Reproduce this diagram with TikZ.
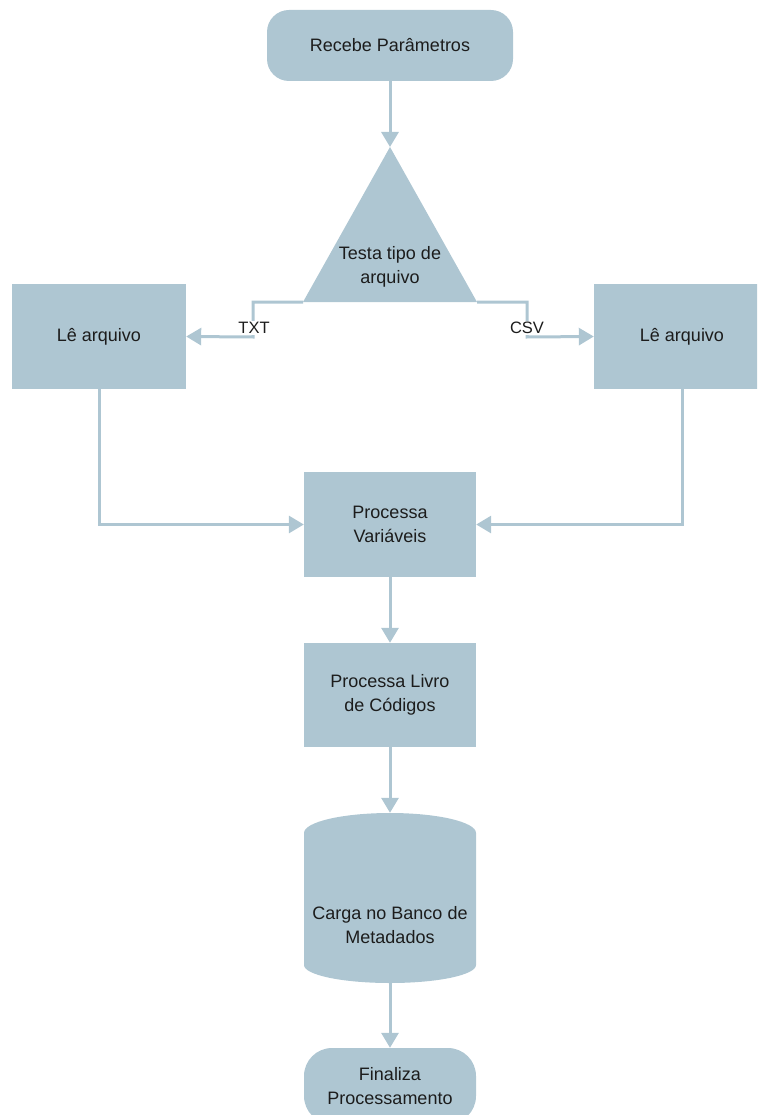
\documentclass[tikz,border=0pt]{standalone}
\usepackage{fontspec}
\setmainfont{Liberation Sans}
\usetikzlibrary{arrows.meta}
\definecolor{shapefill}{RGB}{174,198,210}
\definecolor{linec}{RGB}{174,198,210}
\definecolor{ink}{RGB}{28,28,28}
\begin{document}
\begin{tikzpicture}[x=1pt,y=-1pt,
  font=\fontsize{18}{23.5}\selectfont, text=ink,
  box/.style={fill=shapefill, minimum width=172pt, minimum height=105pt,
    align=center, inner sep=0pt},
  term/.style={box, rounded corners=22pt},
  txt/.style={align=center, inner sep=0pt},
  flow/.style={draw=linec, line width=3pt,
    -{Triangle[length=15pt,width=17pt]}},
  lbl/.style={fill=white, inner sep=1.5pt, font=\fontsize{16.5}{20}\selectfont}]
\useasboundingbox (0,0) rectangle (757,1115);
\clip (0,0) rectangle (757,1115);

% start
\node[term, minimum width=246pt, minimum height=71pt] (recebe) at (390,45.5) {Recebe Parâmetros};

% decision triangle
\coordinate (apex) at (390,147);
\coordinate (bl) at (303,302);
\coordinate (br) at (477,302);
\fill[shapefill] (apex) -- (br) -- (bl) -- cycle;
\node[txt] (testa) at (390,267) {Testa tipo de\\arquivo};

% readers
\node[box, minimum width=174pt] (le1) at (99,336.5) {Lê arquivo};
\node[box, minimum width=176pt] (le2) at (682,336.5) {Lê arquivo};

% processing steps
\node[box] (pv) at (390,524.5) {Processa\\Variáveis};
\node[box, minimum height=104pt] (pl) at (390,695) {Processa Livro\\de Códigos};

% database
\node[inner sep=0pt, minimum width=172pt, minimum height=170pt] (carga) at (390,898) {};
\fill[shapefill] (304,833) arc[start angle=180, end angle=360, x radius=86, y radius=20]
  -- (476,965) arc[start angle=0, end angle=180, x radius=86, y radius=18] -- cycle;
\node[txt] (cargatxt) at (390,925) {Carga no Banco de\\Metadados};

% end
\node[term, rounded corners=28pt, minimum height=76pt] (fin) at (390,1086) {Finaliza\\Processamento};

% connectors
\coordinate (txtk) at (253,337);
\coordinate (csvk) at (527,337);
\draw[flow] (recebe.south) -- (apex);
\draw[flow] (bl) -| (txtk) -- (le1.east);
\draw[flow] (br) -| (csvk) -- (le2.west);
\node[lbl] (txtlbl) at (254,328) {TXT};
\node[lbl] (csvlbl) at (527,328) {CSV};
\draw[flow] (le1.south) |- (pv.west);
\draw[flow] (le2.south) |- (pv.east);
\draw[flow] (pv.south) -- (pl.north);
\draw[flow] (pl.south) -- (carga.north);
\draw[flow] (carga.south) -- (fin.north);
\end{tikzpicture}
\end{document}
